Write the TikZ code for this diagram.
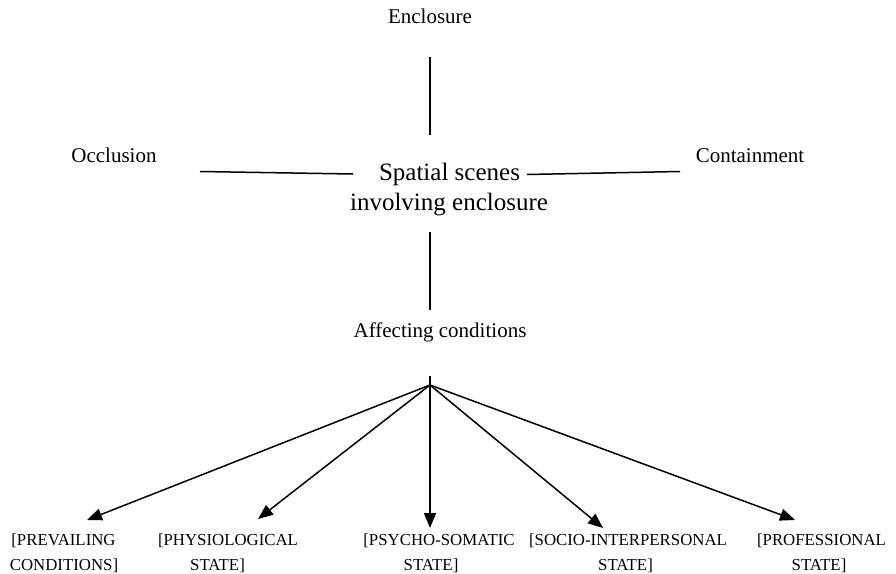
\documentclass[tikz,border=0pt]{standalone}
\usepackage{fontspec}
\setmainfont{Liberation Serif}
\usetikzlibrary{arrows.meta}
\begin{document}
\begin{tikzpicture}[x=1pt,y=-1pt,
  concept/.style={inner sep=0pt,anchor=base,font=\fontsize{21}{25}\selectfont},
  core/.style={inner sep=0pt,anchor=base,font=\fontsize{25}{30}\selectfont},
  factor/.style={inner sep=0pt,anchor=base,font=\fontsize{16.8}{20}\selectfont},
  link/.style={line width=1.5pt},
  branch/.style={line width=1.5pt,-{Triangle[length=15pt,width=12pt]}}]
\useasboundingbox (0,0) rectangle (896,573);

% central scene and its neighbours
\node[core] (core1) at (449.5,180) {Spatial scenes};
\node[core] (core2) at (449,210) {involving enclosure};
\node[concept] (encl) at (430,23) {Enclosure};
\node[concept] (occl) at (114,162) {Occlusion};
\node[concept] (cont) at (750,162) {Containment};
\node[concept] (affc) at (440,337) {Affecting conditions};

% end points of the plain links
\coordinate (enclA) at (430,57);
\coordinate (enclB) at (430,135);
\coordinate (occlA) at (200,171.5);
\coordinate (occlB) at (353,174);
\coordinate (contA) at (527,174.5);
\coordinate (contB) at (680,171.5);
\coordinate (affcA) at (430,232);
\coordinate (affcB) at (430,310);

\draw[link] (enclA) -- (enclB);
\draw[link] (occlA) -- (occlB);
\draw[link] (contA) -- (contB);
\draw[link] (affcA) -- (affcB);

% fan of conditions
\coordinate (hubtop) at (430,376);
\coordinate (hub) at (430,385);
\draw[link] (hubtop) -- (hub);

\node[factor] (prev1) at (63.5,545) {[PREVAILING};
\node[factor] (prev2) at (64,570) {CONDITIONS]};
\node[factor] (phys1) at (228,545) {[PHYSIOLOGICAL};
\node[factor] (phys2) at (217.5,570) {STATE]};
\node[factor] (psyc1) at (439,545) {[PSYCHO-SOMATIC};
\node[factor] (psyc2) at (431,570) {STATE]};
\node[factor] (soci1) at (628,545) {[SOCIO-INTERPERSONAL};
\node[factor] (soci2) at (625.5,570) {STATE]};
\node[factor] (prof1) at (821.5,545) {[PROFESSIONAL};
\node[factor] (prof2) at (819,570) {STATE]};

\coordinate (prevT) at (87,520);
\coordinate (physT) at (258,519);
\coordinate (psycT) at (430,528);
\coordinate (sociT) at (603,528);
\coordinate (profT) at (795,520);

\draw[branch] (hub) -- (prevT);
\draw[branch] (hub) -- (physT);
\draw[branch] (hub) -- (psycT);
\draw[branch] (hub) -- (sociT);
\draw[branch] (hub) -- (profT);
\end{tikzpicture}
\end{document}
